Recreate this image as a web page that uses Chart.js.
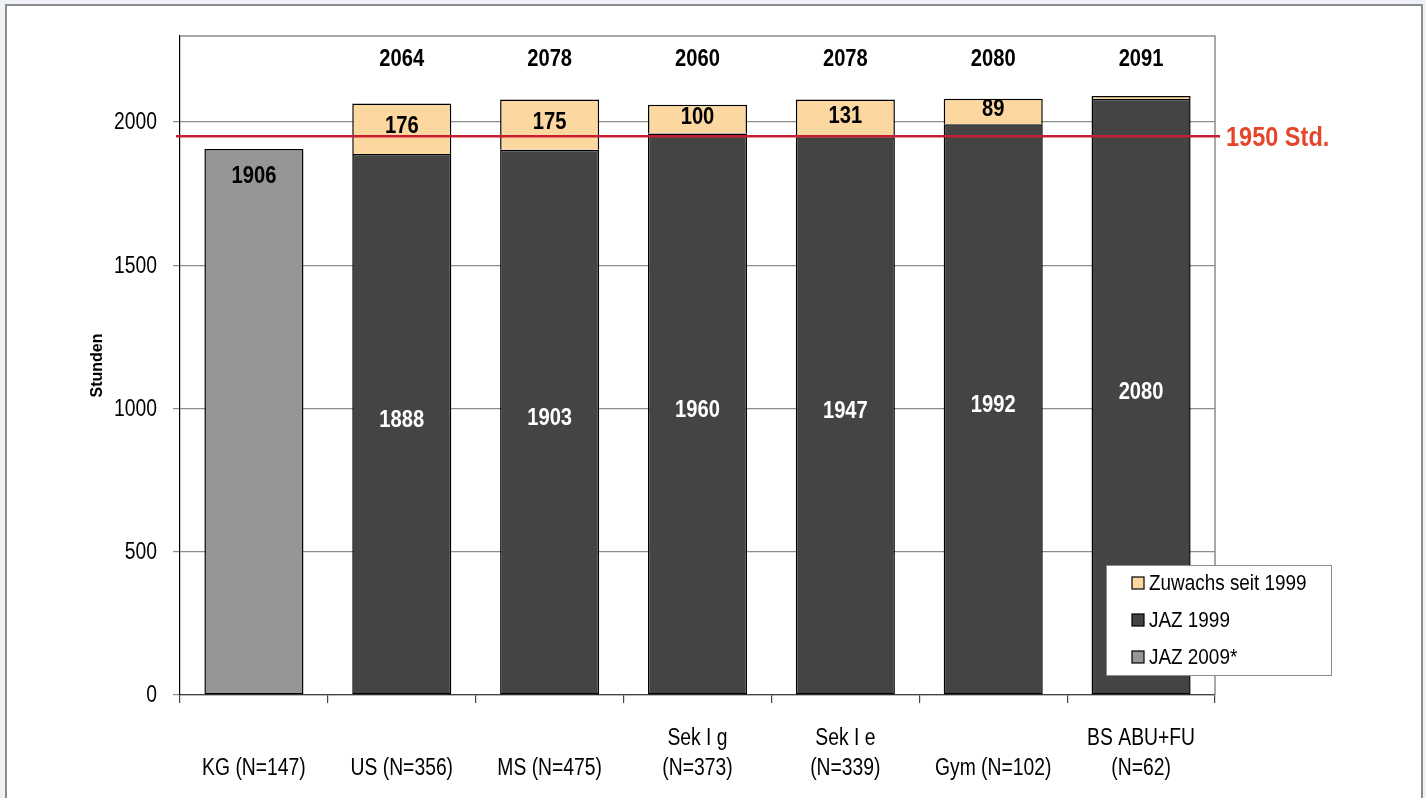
<!DOCTYPE html>
<html>
<head>
<meta charset="utf-8">
<script src="https://cdn.jsdelivr.net/npm/chart.js@4"></script>
<style>
  body { margin: 0; background: #eef2f7; }
  #frame { position: absolute; left: 5px; top: 4px; width: 1414px; height: 800px; border: 2px solid #8c8c8c; background: #fff; }
  canvas { display: block; }
</style>
</head>
<body>
<div id="frame"><canvas id="jazChart" width="1414" height="792"></canvas></div>
<script>
const categories = [
  ['', 'KG (N=147)'],
  ['', 'US (N=356)'],
  ['', 'MS (N=475)'],
  ['Sek I g', '(N=373)'],
  ['Sek I e', '(N=339)'],
  ['', 'Gym (N=102)'],
  ['BS ABU+FU', '(N=62)']
];
const jaz2009 = [1906, null, null, null, null, null, null];
const jaz1999 = [null, 1888, 1903, 1960, 1947, 1992, 2080];
const zuwachs = [null, 176, 175, 100, 131, 89, 11];
const totals = [null, 2064, 2078, 2060, 2078, 2080, 2091];
const yTicks = [0, 500, 1000, 1500, 2000];
const referenceHours = 1950;

const sans = '"Liberation Sans", Arial, sans-serif';
const squeeze = 0.84; // the original uses a condensed face

// draw text squeezed horizontally round its anchor
function narrowText(ctx, text, x, y) {
  ctx.save();
  ctx.translate(x, y);
  ctx.scale(squeeze, 1);
  ctx.fillText(text, 0, 0);
  ctx.restore();
}

// frame round the plot area (top and right in grey)
const plotBorder = {
  id: 'plotBorder',
  beforeDatasetsDraw(chart) {
    const { ctx, chartArea: a } = chart;
    ctx.save();
    ctx.strokeStyle = '#8c8c8c';
    ctx.lineWidth = 1.5;
    ctx.beginPath();
    ctx.moveTo(a.left, a.top);
    ctx.lineTo(a.right, a.top);
    ctx.lineTo(a.right, a.bottom);
    ctx.stroke();
    ctx.restore();
  }
};

// tick labels in the condensed look, placed by the library scales
const tickText = {
  id: 'tickText',
  afterDraw(chart) {
    const { ctx } = chart;
    const xs = chart.scales.x, ys = chart.scales.y;
    ctx.save();
    ctx.fillStyle = '#000';
    ctx.font = '23px ' + sans;
    ctx.textBaseline = 'middle';
    ctx.textAlign = 'right';
    ys.ticks.forEach(t => narrowText(ctx, String(t.value), ys.right - 23, ys.getPixelForValue(t.value) + 1));
    ctx.textAlign = 'center';
    categories.forEach((lines, i) => {
      const x = xs.getPixelForTick(i);
      lines.forEach((ln, k) => narrowText(ctx, ln, x, xs.top + 44 + k * 30));
    });
    ctx.restore();
  }
};

// value labels, totals and the 1950 line
const barLabels = {
  id: 'barLabels',
  afterDatasetsDraw(chart) {
    const { ctx, chartArea: a } = chart;
    ctx.save();
    ctx.textAlign = 'center';
    ctx.textBaseline = 'middle';
    ctx.font = 'bold 24px ' + sans;

    chart.data.datasets.forEach((ds, di) => {
      const meta = chart.getDatasetMeta(di);
      meta.data.forEach((el, i) => {
        const v = ds.data[i];
        if (v == null) return;
        if (ds.label === 'JAZ 2009*') {
          ctx.fillStyle = '#000';
          narrowText(ctx, v, el.x, el.y + 27);
        } else if (ds.label === 'JAZ 1999') {
          ctx.fillStyle = '#fff';
          narrowText(ctx, v, el.x, (el.y + el.base) / 2 - 4);
        } else if (v >= 50) {
          ctx.fillStyle = '#000';
          narrowText(ctx, v, el.x, (el.y + el.base) / 2 - 2);
        }
      });
    });

    // totals above the stacked bars
    const meta = chart.getDatasetMeta(1);
    meta.data.forEach((el, i) => {
      if (totals[i] == null) return;
      ctx.fillStyle = '#000';
      narrowText(ctx, totals[i], el.x, a.top + 23);
    });

    // reference line
    const y = chart.scales.y.getPixelForValue(referenceHours);
    ctx.strokeStyle = '#c81e32';
    ctx.lineWidth = 2.5;
    ctx.beginPath();
    ctx.moveTo(a.left - 4, y);
    ctx.lineTo(a.right + 5, y);
    ctx.stroke();
    ctx.fillStyle = '#e5462a';
    ctx.textAlign = 'left';
    ctx.font = 'bold 28px ' + sans;
    narrowText(ctx, referenceHours + ' Std.', a.right + 11, y + 2);
    ctx.restore();
  }
};

// legend box inside the plot, lower right
const boxLegend = {
  id: 'boxLegend',
  afterDraw(chart) {
    const { ctx } = chart;
    const x0 = 1099, y0 = 559, w = 225, h = 110;
    ctx.save();
    ctx.fillStyle = '#fff';
    ctx.fillRect(x0, y0, w, h);
    ctx.strokeStyle = '#8c8c8c';
    ctx.lineWidth = 1;
    ctx.strokeRect(x0 + 0.5, y0 + 0.5, w, h);
    ctx.font = '22.5px ' + sans;
    ctx.textBaseline = 'middle';
    ctx.textAlign = 'left';
    const items = chart.data.datasets.slice().reverse();
    items.forEach((ds, k) => {
      const cy = y0 + 18 + k * 37;
      ctx.fillStyle = ds.backgroundColor;
      ctx.fillRect(x0 + 26, cy - 6, 12, 12);
      ctx.strokeStyle = '#000';
      ctx.lineWidth = 1.2;
      ctx.strokeRect(x0 + 26, cy - 6, 12, 12);
      ctx.fillStyle = '#000';
      narrowText(ctx, ds.label, x0 + 43, cy + 1);
    });
    ctx.restore();
  }
};

const barStyle = { borderColor: '#000', borderWidth: 1.5, borderSkipped: false, barPercentage: 0.67, categoryPercentage: 1 };

new Chart(document.getElementById('jazChart'), {
  type: 'bar',
  data: {
    labels: categories,
    datasets: [
      Object.assign({ label: 'JAZ 2009*', data: jaz2009, backgroundColor: '#969696' }, barStyle),
      Object.assign({ label: 'JAZ 1999', data: jaz1999, backgroundColor: '#444444' }, barStyle),
      Object.assign({ label: 'Zuwachs seit 1999', data: zuwachs, backgroundColor: '#fcd8a0' }, barStyle,
        { borderWidth: { top: 1.5, left: 1.5, right: 1.5, bottom: 0 } })
    ]
  },
  options: {
    responsive: false,
    animation: false,
    layout: { padding: { left: 0, top: 30, right: 206, bottom: 0 } },
    plugins: { legend: { display: false }, tooltip: { enabled: false } },
    scales: {
      x: {
        stacked: true,
        grid: { offset: true, drawOnChartArea: false, color: '#444', tickLength: 8, lineWidth: 1.2 },
        border: { color: '#444', width: 1.2 },
        ticks: { color: 'rgba(0,0,0,0)', padding: 21, maxRotation: 0, autoSkip: false, font: { family: sans, size: 20, lineHeight: 1.5 } },
        afterFit(scale) { scale.height = 103; }
      },
      y: {
        stacked: true,
        min: 0,
        max: 2300,
        afterBuildTicks(scale) { scale.ticks = yTicks.map(v => ({ value: v })); },
        grid: { color: '#8c8c8c', tickLength: 7, lineWidth: 1.2 },
        border: { color: '#000', width: 1.2 },
        ticks: { color: 'rgba(0,0,0,0)', padding: 16, font: { family: sans, size: 20 }, callback: v => String(v) },
        title: { display: true, text: 'Stunden', color: '#000', padding: { top: 81, bottom: 0 }, font: { family: sans, size: 16, weight: 'bold' } },
        afterFit(scale) { scale.width = 173; }
      }
    }
  },
  plugins: [plotBorder, barLabels, tickText, boxLegend]
});
</script>
</body>
</html>
